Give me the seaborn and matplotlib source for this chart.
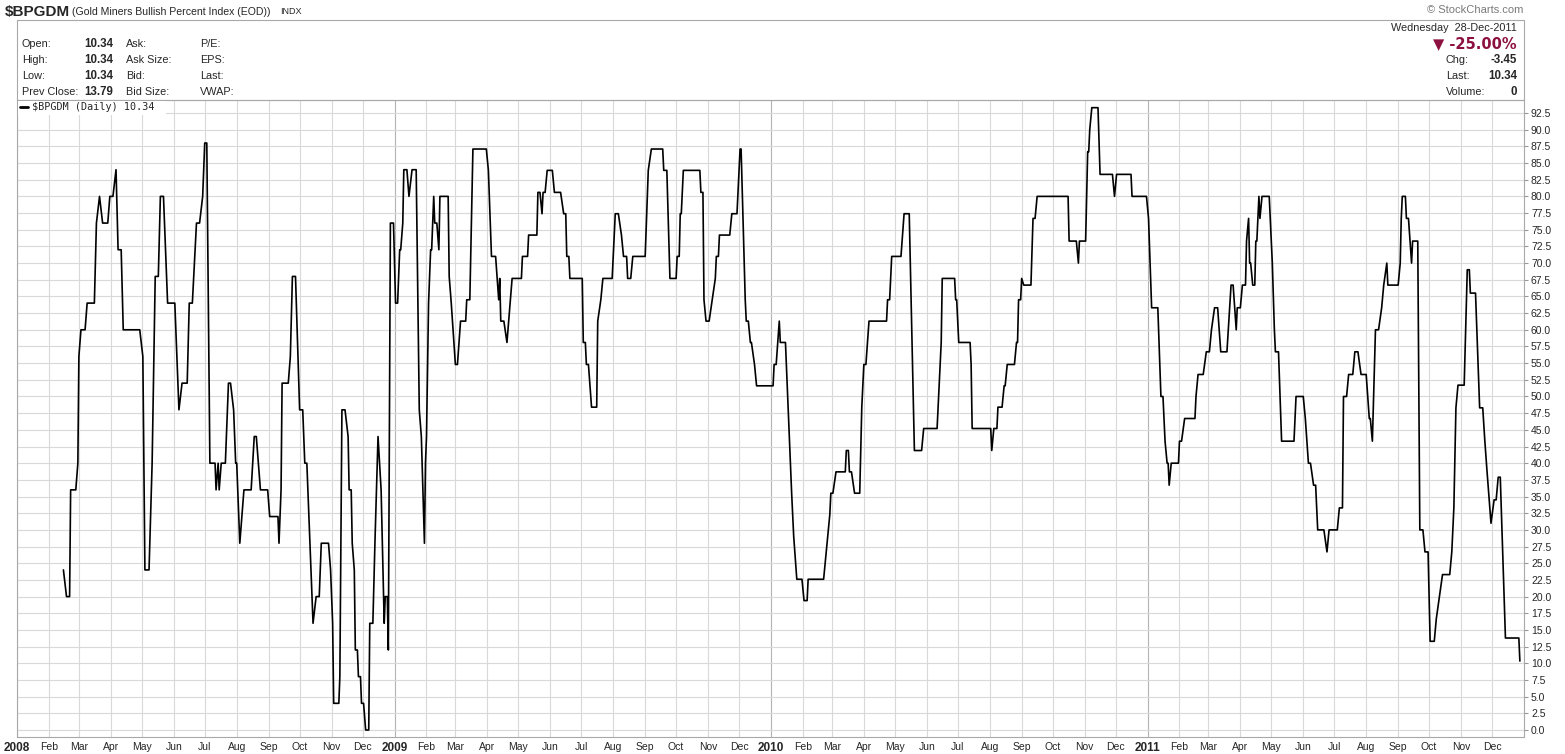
import matplotlib
matplotlib.use("Agg")
import matplotlib.pyplot as plt
import matplotlib.patches as mpatches
import numpy as np
import pandas as pd
import seaborn as sns

# ---------------- data ----------------
dates_2008 = ["2008-02-15","2008-02-18","2008-02-21","2008-02-22","2008-02-27","2008-02-29","2008-03-01","2008-03-03","2008-03-07","2008-03-09",
              "2008-03-16","2008-03-18","2008-03-21","2008-03-24","2008-03-29","2008-03-31","2008-04-03","2008-04-06","2008-04-08","2008-04-11",
              "2008-04-13","2008-04-29","2008-05-02","2008-05-04","2008-05-08","2008-05-11","2008-05-14","2008-05-17","2008-05-19","2008-05-22",
              "2008-05-26","2008-06-02","2008-06-06","2008-06-09","2008-06-14","2008-06-16","2008-06-19","2008-06-23","2008-06-26","2008-06-29",
              "2008-07-01","2008-07-03","2008-07-06","2008-07-11","2008-07-12","2008-07-14","2008-07-15","2008-07-17","2008-07-21","2008-07-22",
              "2008-07-24","2008-07-26","2008-07-29","2008-07-31","2008-08-01","2008-08-04","2008-08-08","2008-08-15","2008-08-18","2008-08-20",
              "2008-08-24","2008-08-31","2008-09-02","2008-09-10","2008-09-11","2008-09-13","2008-09-14","2008-09-20","2008-09-22","2008-09-24",
              "2008-09-27","2008-10-01","2008-10-04","2008-10-06","2008-10-08","2008-10-14","2008-10-17","2008-10-20","2008-10-22","2008-10-29",
              "2008-10-31","2008-11-02","2008-11-03","2008-11-08","2008-11-09","2008-11-11","2008-11-14","2008-11-17","2008-11-18","2008-11-20",
              "2008-11-21","2008-11-23","2008-11-24","2008-11-26","2008-11-27","2008-11-29","2008-11-30","2008-12-02","2008-12-04","2008-12-07",
              "2008-12-08","2008-12-11","2008-12-13","2008-12-16","2008-12-19","2008-12-22","2008-12-23","2008-12-25","2008-12-26","2008-12-28",
              "2008-12-31"]
values_2008 = [24,20,20,36,36,40,56,60,60,64,
               64,76,80,76,76,80,80,84,72,72,
               60,60,56,24,24,40,68,68,80,80,
               64,64,48,52,52,64,64,76,76,80,
               88,88,40,40,36,40,36,40,40,44,
               52,52,48,40,40,28,36,36,44,44,
               36,36,32,32,28,36,52,52,56,68,
               68,48,48,40,40,16,20,20,28,28,
               24,16,4,4,8,48,48,44,36,36,
               28,24,12,12,8,8,4,4,0,0,
               16,16,28,44,36,16,20,20,12,76,
               76]

dates_2009 = ["2009-01-02","2009-01-04","2009-01-06","2009-01-07","2009-01-09","2009-01-10","2009-01-13","2009-01-15","2009-01-18","2009-01-22",
              "2009-01-25","2009-01-27","2009-01-30","2009-01-31","2009-02-01","2009-02-03","2009-02-05","2009-02-06","2009-02-08","2009-02-09",
              "2009-02-11","2009-02-13","2009-02-14","2009-02-22","2009-02-23","2009-02-25","2009-03-01","2009-03-03","2009-03-06","2009-03-11",
              "2009-03-12","2009-03-15","2009-03-18","2009-03-31","2009-04-02","2009-04-05","2009-04-09","2009-04-12","2009-04-13","2009-04-14",
              "2009-04-17","2009-04-20","2009-04-25","2009-05-04","2009-05-05","2009-05-10","2009-05-11","2009-05-19","2009-05-20","2009-05-22",
              "2009-05-24","2009-05-25","2009-05-27","2009-05-29","2009-06-03","2009-06-05","2009-06-11","2009-06-14","2009-06-16","2009-06-17",
              "2009-06-19","2009-06-20","2009-07-02","2009-07-03","2009-07-05","2009-07-06","2009-07-08","2009-07-11","2009-07-16","2009-07-17",
              "2009-07-20","2009-07-22","2009-07-31","2009-08-03","2009-08-06","2009-08-09","2009-08-11","2009-08-14","2009-08-15","2009-08-18",
              "2009-08-20","2009-09-01","2009-09-04","2009-09-07","2009-09-18","2009-09-19","2009-09-22","2009-09-25","2009-10-01","2009-10-02",
              "2009-10-04","2009-10-05","2009-10-06","2009-10-08","2009-10-24","2009-10-25","2009-10-27","2009-10-28","2009-10-30","2009-11-02",
              "2009-11-05","2009-11-08","2009-11-09","2009-11-11","2009-11-12","2009-11-22","2009-11-24","2009-11-29","2009-12-02","2009-12-03",
              "2009-12-07","2009-12-08","2009-12-10","2009-12-12","2009-12-13","2009-12-16","2009-12-18"]
values_2009 = [64,64,72,72,76,84,84,80,84,84,
               48,44,28,40,44,64,72,72,80,76,
               76,72,80,80,68,64,54.8,54.8,61.3,61.3,
               64.5,64.5,87.1,87.1,83.9,71.0,71.0,64.5,67.7,61.3,
               61.3,58.1,67.7,67.7,71.0,71.0,74.2,74.2,80.6,80.6,
               77.4,80.6,80.6,83.9,83.9,80.6,80.6,77.4,77.4,71.0,
               71.0,67.7,67.7,58.1,58.1,54.8,54.8,48.4,48.4,61.3,
               64.5,67.7,67.7,77.4,77.4,74.2,71.0,71.0,67.7,67.7,
               71.0,71.0,83.9,87.1,87.1,83.9,83.9,67.7,67.7,71.0,
               71.0,77.4,77.4,83.9,83.9,80.6,80.6,64.5,61.3,61.3,
               64.5,67.7,71.0,71.0,74.2,74.2,77.4,77.4,87.1,87.1,
               64.5,61.3,61.3,58.1,58.1,54.8,51.6]

dates_2010 = ["2010-01-03","2010-01-04","2010-01-06","2010-01-09","2010-01-10","2010-01-15","2010-01-21","2010-01-23","2010-01-26","2010-01-31",
              "2010-02-02","2010-02-05","2010-02-06","2010-02-21","2010-02-23","2010-02-27","2010-02-28","2010-03-02","2010-03-05","2010-03-14",
              "2010-03-15","2010-03-17","2010-03-18","2010-03-20","2010-03-23","2010-03-28","2010-03-30","2010-04-01","2010-04-03","2010-04-06",
              "2010-04-23","2010-04-24","2010-04-26","2010-04-28","2010-05-07","2010-05-10","2010-05-15","2010-05-20","2010-05-27","2010-05-29",
              "2010-06-11","2010-06-13","2010-06-15","2010-06-16","2010-06-28","2010-06-29","2010-06-30","2010-07-02","2010-07-13","2010-07-14",
              "2010-07-15","2010-08-02","2010-08-03","2010-08-05","2010-08-08","2010-08-09","2010-08-13","2010-08-15","2010-08-16","2010-08-18",
              "2010-08-25","2010-08-27","2010-08-28","2010-08-29","2010-08-31","2010-09-01","2010-09-03","2010-09-10","2010-09-12","2010-09-14",
              "2010-09-16","2010-10-16","2010-10-17","2010-10-24","2010-10-26","2010-10-27","2010-11-02","2010-11-04","2010-11-05","2010-11-06",
              "2010-11-08","2010-11-14","2010-11-16","2010-11-28","2010-11-30","2010-12-02","2010-12-16","2010-12-17","2010-12-31"]
values_2010 = [51.6,54.8,54.8,61.3,58.1,58.1,35.5,29.0,22.6,22.6,
               19.4,19.4,22.6,22.6,25.8,32.3,35.5,35.5,38.7,38.7,
               41.9,41.9,38.7,38.7,35.5,35.5,48.4,54.8,54.8,61.3,
               61.3,64.5,64.5,71.0,71.0,77.4,77.4,41.9,41.9,45.2,
               45.2,51.6,58.1,67.7,67.7,64.5,64.5,58.1,58.1,54.8,
               45.2,45.2,41.9,45.2,45.2,48.4,48.4,51.6,51.6,54.8,
               54.8,58.1,58.1,64.5,64.5,67.7,66.7,66.7,76.7,76.7,
               80.0,80.0,73.3,73.3,70.0,73.3,73.3,86.7,86.7,90.0,
               93.3,93.3,83.3,83.3,80.0,83.3,83.3,80.0,80.0]

dates_2011 = ["2011-01-02","2011-01-05","2011-01-11","2011-01-14","2011-01-16","2011-01-18","2011-01-20","2011-01-21","2011-01-22","2011-01-24",
              "2011-01-31","2011-02-01","2011-02-03","2011-02-06","2011-02-16","2011-02-17","2011-02-19","2011-02-24","2011-02-27","2011-03-02",
              "2011-03-04","2011-03-07","2011-03-10","2011-03-13","2011-03-19","2011-03-23","2011-03-25","2011-03-28","2011-03-29","2011-04-01",
              "2011-04-03","2011-04-06","2011-04-07","2011-04-09","2011-04-10","2011-04-11","2011-04-13","2011-04-15","2011-04-16","2011-04-17",
              "2011-04-19","2011-04-20","2011-04-22","2011-04-29","2011-05-01","2011-05-02","2011-05-04","2011-05-05","2011-05-08","2011-05-11",
              "2011-05-23","2011-05-25","2011-06-01","2011-06-03","2011-06-06","2011-06-08","2011-06-11","2011-06-13","2011-06-15","2011-06-21",
              "2011-06-24","2011-06-26","2011-07-04","2011-07-06","2011-07-09","2011-07-10","2011-07-13","2011-07-15","2011-07-19","2011-07-21",
              "2011-07-24","2011-07-27","2011-08-01","2011-08-04","2011-08-05","2011-08-07","2011-08-10","2011-08-13","2011-08-16","2011-08-18",
              "2011-08-21","2011-08-22","2011-09-01","2011-09-03","2011-09-04","2011-09-05","2011-09-08","2011-09-09","2011-09-11","2011-09-14",
              "2011-09-15","2011-09-20","2011-09-22","2011-09-25","2011-09-27","2011-09-30","2011-10-02","2011-10-06","2011-10-08","2011-10-11",
              "2011-10-14","2011-10-21","2011-10-23","2011-10-25","2011-10-27","2011-10-29","2011-11-04","2011-11-07","2011-11-09","2011-11-10",
              "2011-11-15","2011-11-19","2011-11-22","2011-11-24","2011-11-26","2011-11-30","2011-12-03","2011-12-05","2011-12-07","2011-12-09",
              "2011-12-14","2011-12-27","2011-12-28"]
values_2011 = [76.7,63.3,63.3,50.0,50.0,43.3,40.0,40.0,36.7,40.0,
               40.0,43.3,43.3,46.7,46.7,50.0,53.3,53.3,56.7,56.7,
               60.0,63.3,63.3,56.7,56.7,66.7,66.7,60.0,63.3,63.3,
               66.7,66.7,73.3,76.7,70.0,70.0,66.7,66.7,73.3,73.3,
               80.0,76.7,80.0,80.0,73.3,70.0,60.0,56.7,56.7,43.3,
               43.3,50.0,50.0,46.7,40.0,40.0,36.7,36.7,30.0,30.0,
               26.7,30.0,30.0,33.3,33.3,50.0,50.0,53.3,53.3,56.7,
               56.7,53.3,53.3,46.7,46.7,43.3,60.0,60.0,63.3,66.7,
               70.0,66.7,66.7,70.0,76.7,80.0,80.0,76.7,76.7,70.0,
               73.3,73.3,30.0,30.0,26.7,26.7,13.3,13.3,16.7,20.0,
               23.3,23.3,26.7,33.3,48.3,51.7,51.7,69.0,69.0,65.5,
               65.5,48.3,48.3,43.4,39.1,31.0,34.5,34.5,37.9,37.9,
               13.79,13.79,10.34]

y_ticks = np.arange(0, 92.6, 2.5)

# ---------------- figure ----------------
W, H = 1565, 754
sns.set_style("white")
plt.rcParams["font.family"] = ["Liberation Sans", "DejaVu Sans"]

fig = plt.figure(figsize=(W / 100, H / 100), dpi=100)
fig.patch.set_facecolor("white")

L, R, T, B = 17, 1524, 100, 737
ax = fig.add_axes([L / W, 1 - B / H, (R - L) / W, (B - T) / H])

df = pd.DataFrame({
    "date": pd.to_datetime(dates_2008 + dates_2009 + dates_2010 + dates_2011),
    "value": values_2008 + values_2009 + values_2010 + values_2011,
})

sns.lineplot(data=df, x="date", y="value", ax=ax, color="black",
             linewidth=1.2, estimator=None, sort=False, zorder=5)

# axes limits
ax.set_xlim(pd.Timestamp("2008-01-01"), pd.Timestamp("2012-01-01"))
ax.set_ylim(-1.05, 94.45)

# grid
month_starts = pd.date_range("2008-01-01", "2011-12-01", freq="MS")
for d in month_starts:
    ax.axvline(d, color="#b4b4b4" if d.month == 1 else "#d9d9d9", lw=0.8, zorder=1)
for v in y_ticks:
    ax.axhline(v, color="#d9d9d9", lw=0.8, zorder=1)

# x ticks
ax.set_xticks(month_starts)
ax.set_xticklabels([str(d.year) if d.month == 1 else d.strftime("%b") for d in month_starts])
for lbl, d in zip(ax.get_xticklabels(), month_starts):
    if d.month == 1:
        lbl.set_fontweight("bold")
        lbl.set_fontsize(8.5)
    else:
        lbl.set_fontsize(7.5)
ax.tick_params(axis="x", length=2, color="#bbbbbb", pad=1.5)

# y ticks on the right
ax.yaxis.tick_right()
ax.set_yticks(y_ticks)
ax.set_yticklabels([f"{v:.1f}" for v in y_ticks], fontsize=7.5)
ax.tick_params(axis="y", length=3, color="#999999", pad=2)
ax.set_xlabel("")
ax.set_ylabel("")

for s in ["top", "left", "bottom", "right"]:
    ax.spines[s].set_color("#a8a8a8")
    ax.spines[s].set_linewidth(0.8)

# legend-like label inside plot
fig.patches.append(mpatches.Rectangle((18 / W, 1 - 115 / H), 148 / W, 14 / H,
                                      transform=fig.transFigure, facecolor="white",
                                      edgecolor="none", zorder=10))
fig.lines.append(plt.Line2D([20 / W, 28 / W], [1 - 107 / H, 1 - 107 / H],
                            transform=fig.transFigure, color="black", lw=2, zorder=11))
fig.text(32 / W, 1 - 107 / H, r"\$BPGDM (Daily) 10.34", fontsize=7.3,
         family="DejaVu Sans Mono", va="center", ha="left", zorder=12)

# ---------------- header ----------------
def ftext(x, y, s, **kw):
    return fig.text(x / W, 1 - y / H, s, **kw)

ftext(5, 12, r"\$BPGDM", fontsize=11, fontweight="bold", va="center")
ftext(72, 12, "(Gold Miners Bullish Percent Index (EOD))", fontsize=7.6, va="center")
ftext(280, 12, "INDX", fontsize=6.5, va="center")
ftext(1523, 10, "© StockCharts.com", fontsize=8, color="#7a7a7a", va="center", ha="right")

# info box
fig.patches.append(mpatches.Rectangle((L / W, 1 - T / H), (R - L) / W, 80 / H,
                                      transform=fig.transFigure, fill=False,
                                      edgecolor="#a8a8a8", lw=0.8))

rows_y = [44, 60, 76, 92]
left_labels = ["Open:", "High:", "Low:", "Prev Close:"]
left_values = ["10.34", "10.34", "10.34", "13.79"]
mid_labels = ["Ask:", "Ask Size:", "Bid:", "Bid Size:"]
far_labels = ["P/E:", "EPS:", "Last:", "VWAP:"]
for y, a, b, c, d in zip(rows_y, left_labels, left_values, mid_labels, far_labels):
    ftext(22, y, a, fontsize=7.8, va="center")
    ftext(113, y, b, fontsize=8.3, fontweight="bold", va="center", ha="right")
    ftext(126, y, c, fontsize=7.8, va="center")
    ftext(200, y, d, fontsize=7.8, va="center")

ftext(1517, 28, "Wednesday  28-Dec-2011", fontsize=7.8, va="center", ha="right")
ftext(1517, 44, "▼ -25.00%", fontsize=10.5, fontweight="bold", color="#8c1040",
      va="center", ha="right", family=["DejaVu Sans"])
right_labels = ["Chg:", "Last:", "Volume:"]
right_values = ["-3.45", "10.34", "0"]
for y, a, b in zip(rows_y[1:], right_labels, right_values):
    ftext(1446, y, a, fontsize=7.8, va="center")
    ftext(1517, y, b, fontsize=8.3, fontweight="bold", va="center", ha="right")

fig.savefig("out.png", dpi=100, facecolor="white")
